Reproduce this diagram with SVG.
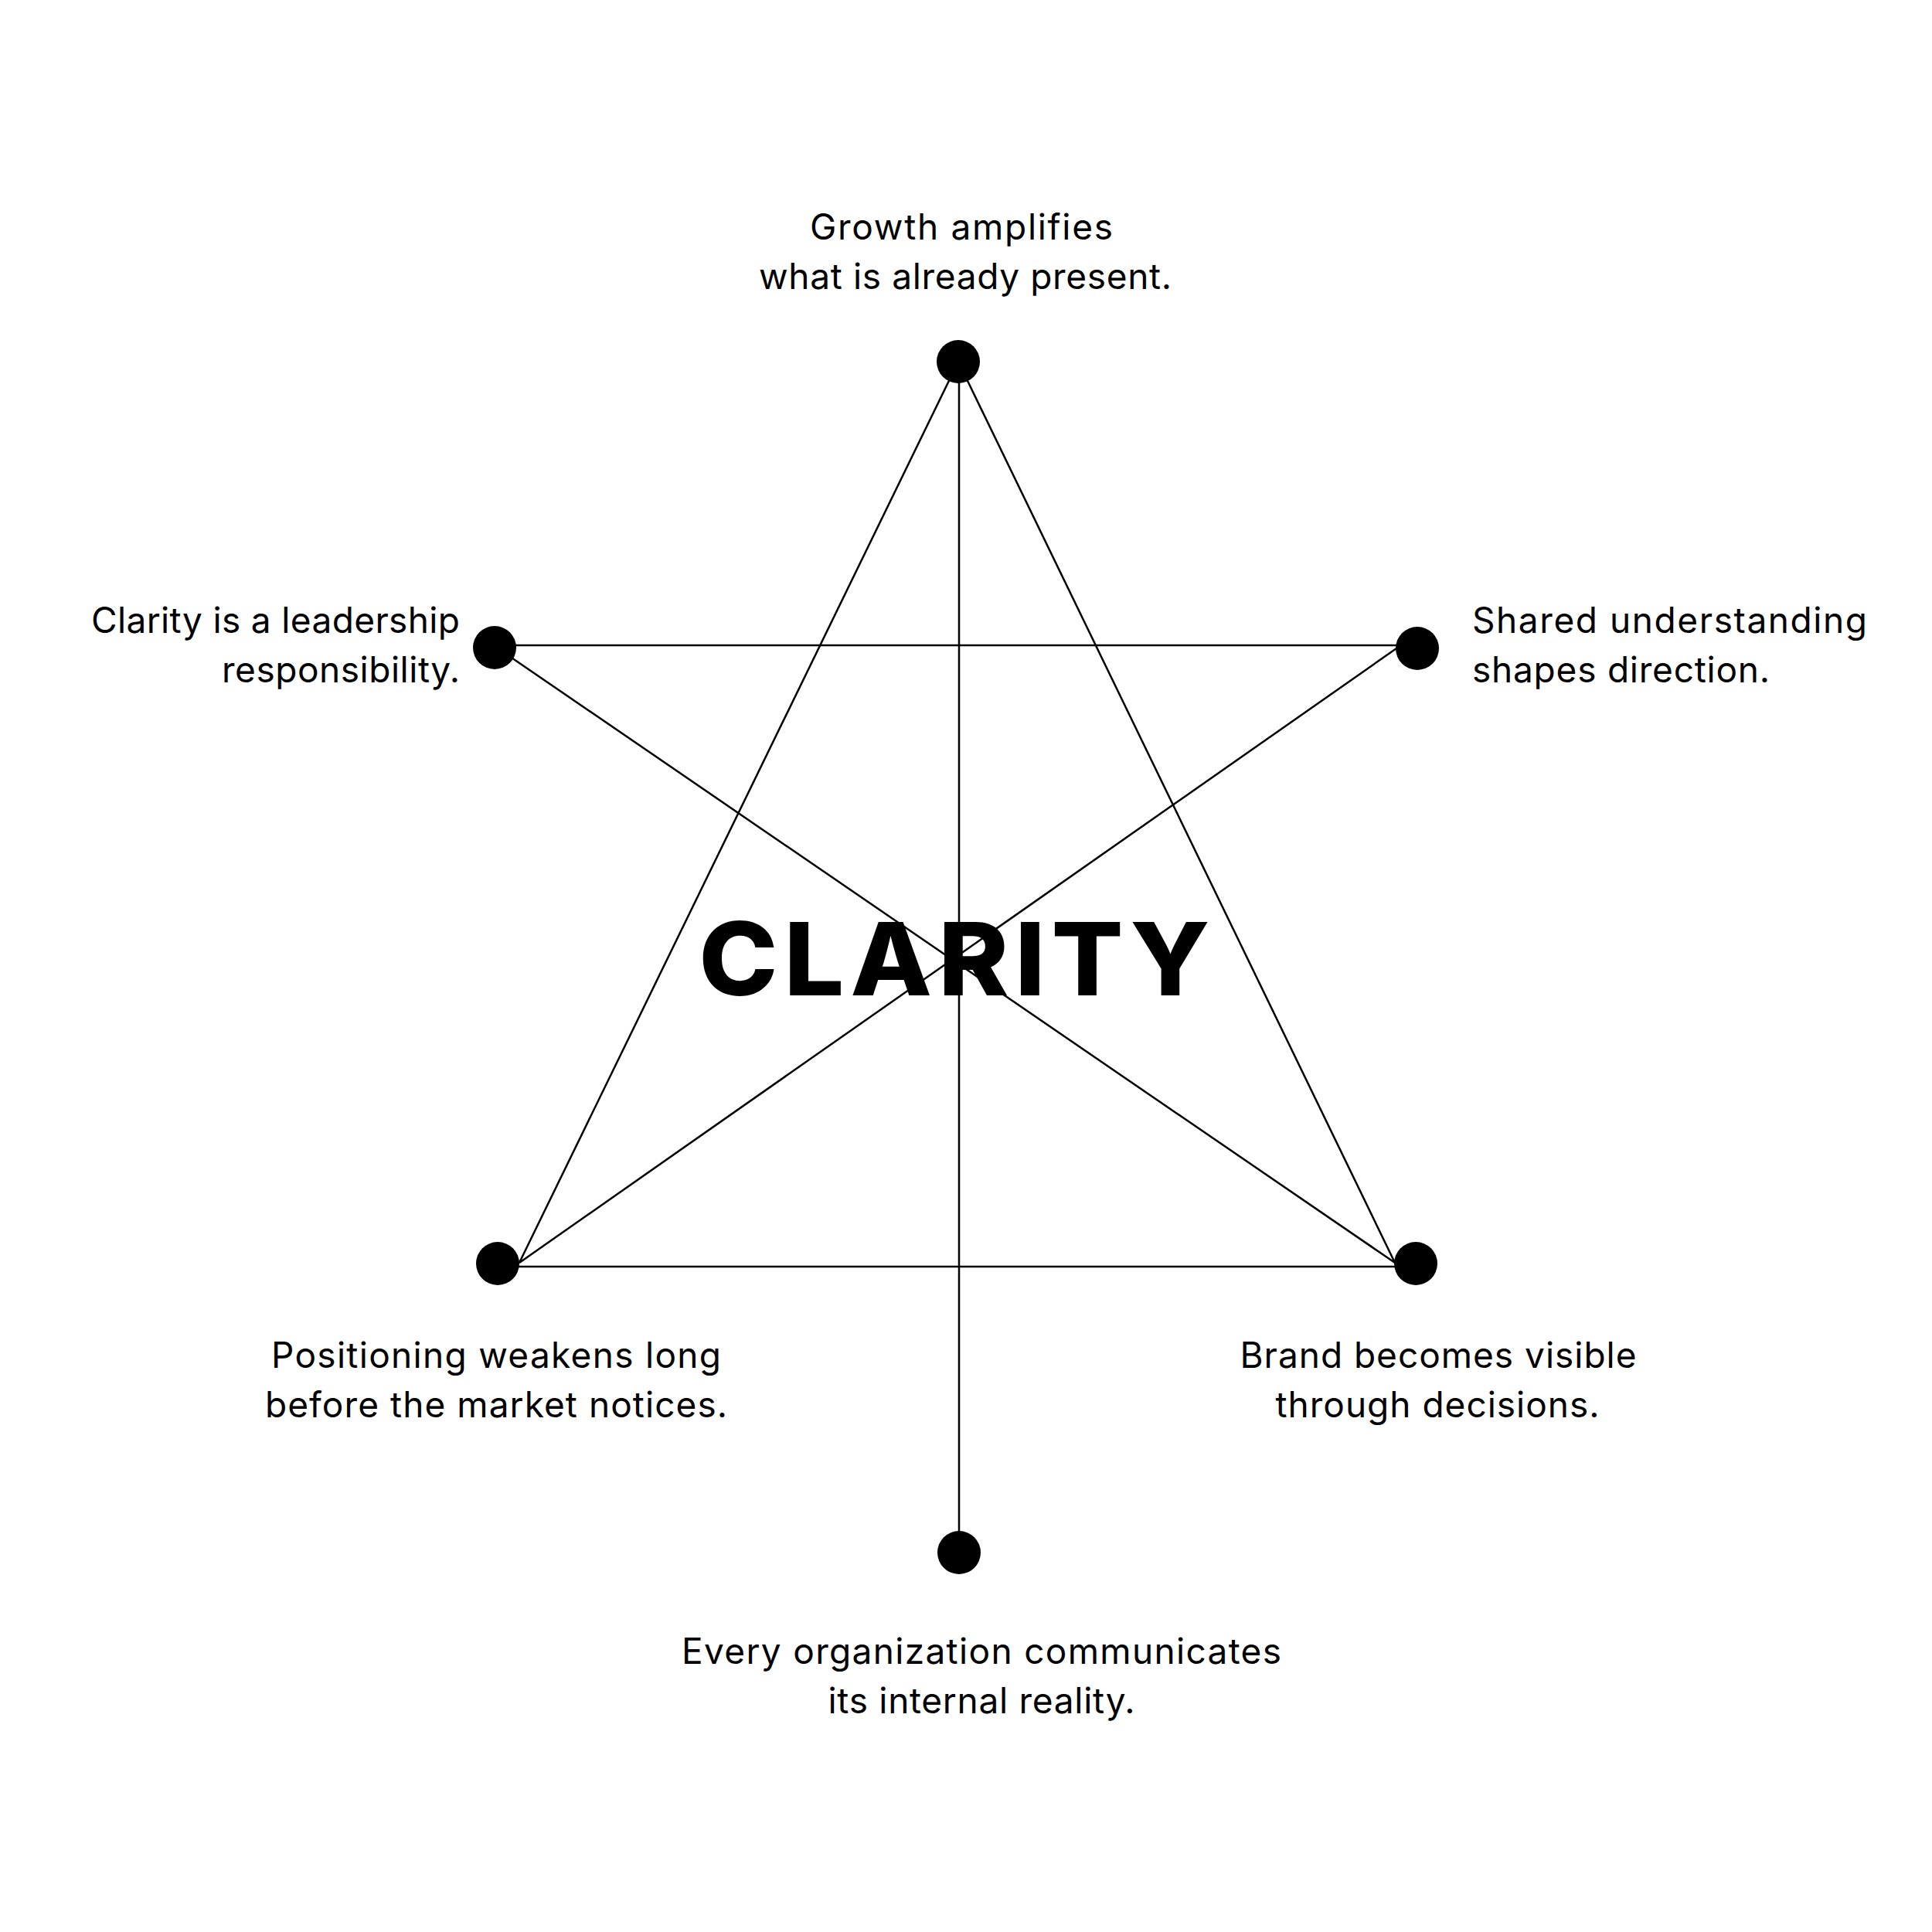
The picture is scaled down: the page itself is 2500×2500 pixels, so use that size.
<svg xmlns="http://www.w3.org/2000/svg" width="2500" height="2500" viewBox="0 0 2500 2500">
<style>
.edge{stroke:#000;stroke-width:2.5;fill:none}
.dot{fill:#000}
.lbl{font-family:Inter,"Liberation Sans",sans-serif;font-size:46px;font-weight:400;fill:#000}
.mid{text-anchor:middle}
.end{text-anchor:end}
.title{font-family:Inter,"Liberation Sans",sans-serif;font-size:131px;font-weight:800;fill:#000;text-anchor:middle}
</style>
<rect width="2500" height="2500" fill="#fff"/>
<g id="connectors">
<line class="edge" x1="1240" y1="468" x2="672" y2="1634"/>
<line class="edge" x1="1240" y1="468" x2="1805" y2="1634"/>
<line class="edge" x1="1241" y1="468" x2="1241" y2="2009"/>
<line class="edge" x1="640" y1="835" x2="1834" y2="835"/>
<line class="edge" x1="640" y1="836" x2="1805" y2="1634"/>
<line class="edge" x1="1807" y1="839" x2="672" y2="1634"/>
<line class="edge" x1="644" y1="1639" x2="1832" y2="1639"/>
</g>
<g id="center">
<text class="title" transform="translate(1235 1288) scale(1.05 1)" x="0" y="0" textLength="630" lengthAdjust="spacing">CLARITY</text>
</g>
<g id="node-top">
<circle class="dot" cx="1240" cy="468" r="28"/>
<text class="lbl mid" x="1244" y="310" textLength="392" lengthAdjust="spacing">Growth amplifies</text>
<text class="lbl mid" x="1249" y="374" textLength="534" lengthAdjust="spacing">what is already present.</text>
</g>
<g id="node-left">
<circle class="dot" cx="640" cy="838" r="28"/>
<text class="lbl end" x="595" y="819" textLength="477" lengthAdjust="spacing">Clarity is a leadership</text>
<text class="lbl end" x="595" y="883" textLength="308" lengthAdjust="spacing">responsibility.</text>
</g>
<g id="node-right">
<circle class="dot" cx="1834" cy="839" r="28"/>
<text class="lbl" x="1905" y="819" textLength="511" lengthAdjust="spacing">Shared understanding</text>
<text class="lbl" x="1905" y="883" textLength="385" lengthAdjust="spacing">shapes direction.</text>
</g>
<g id="node-bottom-left">
<circle class="dot" cx="644" cy="1635" r="28"/>
<text class="lbl mid" x="642" y="1770" textLength="582" lengthAdjust="spacing">Positioning weakens long</text>
<text class="lbl mid" x="642" y="1834" textLength="598" lengthAdjust="spacing">before the market notices.</text>
</g>
<g id="node-bottom-right">
<circle class="dot" cx="1832" cy="1635" r="28"/>
<text class="lbl mid" x="1861" y="1770" textLength="513" lengthAdjust="spacing">Brand becomes visible</text>
<text class="lbl mid" x="1860" y="1834" textLength="419" lengthAdjust="spacing">through decisions.</text>
</g>
<g id="node-bottom">
<circle class="dot" cx="1241" cy="2009" r="28"/>
<text class="lbl mid" x="1270" y="2153" textLength="776" lengthAdjust="spacing">Every organization communicates</text>
<text class="lbl mid" x="1270" y="2217" textLength="397" lengthAdjust="spacing">its internal reality.</text>
</g>
</svg>
